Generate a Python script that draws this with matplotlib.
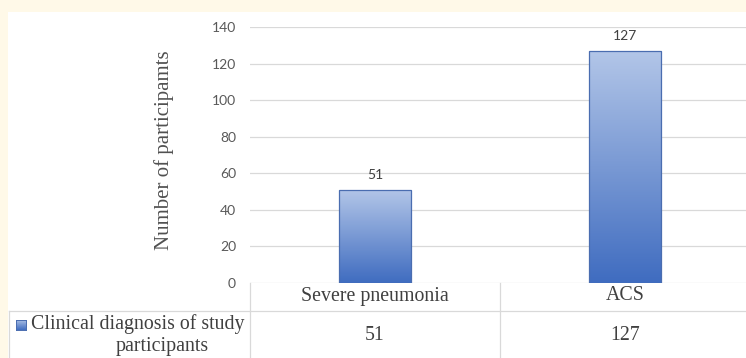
import matplotlib
matplotlib.use("Agg")
import matplotlib.pyplot as plt
import numpy as np
from matplotlib.patches import Rectangle
from matplotlib.lines import Line2D
from matplotlib.colors import LinearSegmentedColormap

categories = ["Severe pneumonia", "ACS"]
values = [51, 127]
series_name = "Clinical diagnosis of study participants"
y_ticks = [0, 20, 40, 60, 80, 100, 120, 140]
y_label = "Number of participamts"

W, H = 746, 358
fig = plt.figure(figsize=(W / 100, H / 100), dpi=100)
fig.patch.set_facecolor("#FFF9E8")

def fx(px):
    return px / W

def fy(py):
    return 1 - py / H

SERIF = "Liberation Serif"
FS = 14.3
TXT = "#404040"

# white chart area
fig.patches.append(Rectangle((fx(8), 0), 1, fy(12), transform=fig.transFigure,
                             facecolor="white", edgecolor="none", zorder=-5))

ax_left, ax_right, ax_top, ax_bot = 250, 750, 27, 283
ax = fig.add_axes([fx(ax_left), fy(ax_bot), fx(ax_right - ax_left), fy(ax_top) - fy(ax_bot)])
ax.set_zorder(2)
ax.patch.set_alpha(0)
ax.set_xlim(-0.5, len(categories) - 0.5)
ax.set_ylim(0, 140)
ax.set_yticks(y_ticks)
ax.set_yticklabels([str(t) for t in y_ticks], fontfamily="Lato", fontsize=10, color="#595959")
ax.tick_params(axis="y", length=0, pad=10)
ax.set_xticks([])
for s in ax.spines.values():
    s.set_visible(False)
ax.grid(axis="y", color="#D9D9D9", linewidth=0.9)
ax.set_axisbelow(True)

x = np.arange(len(categories))
bars = ax.bar(x, values, width=0.29, facecolor="none", edgecolor="#4A6DB0", linewidth=0.9, zorder=3)

grad = np.linspace(0, 1, 256).reshape(-1, 1)
cmap = LinearSegmentedColormap.from_list("g", ["#B3C6E8", "#3F6CC0"])
for b in bars:
    x0, y0 = b.get_x(), b.get_y()
    w, h = b.get_width(), b.get_height()
    im = ax.imshow(grad, extent=(x0, x0 + w, y0, y0 + h), origin="upper", cmap=cmap,
                   aspect="auto", zorder=2, interpolation="bilinear")
    clip = Rectangle((x0, y0), w, h, transform=ax.transData)
    im.set_clip_path(clip)
    ax.text(x0 + w / 2, y0 + h + 5, str(int(h)), ha="center", va="bottom",
            fontfamily="Lato", fontsize=10, color=TXT)
ax.set_xlim(-0.5, len(categories) - 0.5)
ax.set_ylim(0, 140)

ax.set_ylabel(y_label, fontfamily=SERIF, fontsize=15, color="#505050", labelpad=27)
ax.yaxis.label.set_y(0.52)

# data table
lc = "#D9D9D9"
def hline(y, x0, x1):
    fig.add_artist(Line2D([fx(x0), fx(x1)], [fy(y), fy(y)], transform=fig.transFigure, color=lc, lw=0.9))
def vline(xp, y0, y1):
    fig.add_artist(Line2D([fx(xp), fx(xp)], [fy(y0), fy(y1)], transform=fig.transFigure, color=lc, lw=0.9))

hline(311, 9, 746)
vline(250, 283, 358)
vline(500, 283, 358)
vline(9, 311, 358)

col_w = (ax_right - ax_left) / len(categories)
for i, (c, v) in enumerate(zip(categories, values)):
    cx = ax_left + col_w * (i + 0.5)
    fig.text(fx(cx), fy(296), c, ha="center", va="center", fontfamily=SERIF,
             fontsize=FS, color=TXT)
    fig.text(fx(cx), fy(336), str(v), ha="center", va="center", fontfamily=SERIF,
             fontsize=FS, color=TXT)

# legend key
key = fig.add_axes([fx(16), fy(330), fx(10), fy(320) - fy(330)])
key.set_zorder(3)
key.imshow(grad, cmap=cmap, aspect="auto", extent=(0, 1, 0, 1), origin="upper")
key.set_xticks([]); key.set_yticks([])
for s in key.spines.values():
    s.set_color("#4A6DB0"); s.set_linewidth(0.7)

words = series_name.split()
line1 = " ".join(words[:-1])
line2 = words[-1]
fig.text(fx(31), fy(324), line1, ha="left", va="center", fontfamily=SERIF,
         fontsize=FS, color=TXT)
fig.text(fx(162), fy(347), line2, ha="center", va="center", fontfamily=SERIF,
         fontsize=FS, color=TXT)

fig.savefig("out.png", dpi=100, facecolor=fig.get_facecolor())
